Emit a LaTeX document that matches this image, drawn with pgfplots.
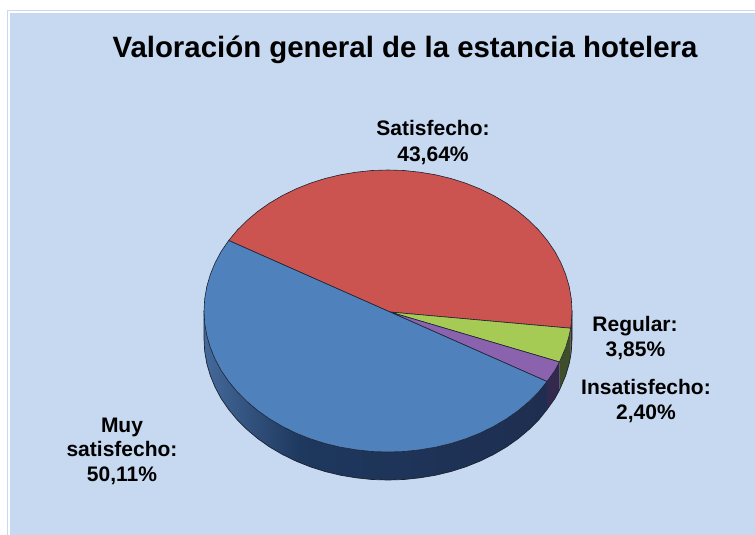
\documentclass[border=0pt]{standalone}
\usepackage{pgfplots}
\pgfplotsset{compat=1.18}
\usepackage{fontspec}
\setmainfont{Liberation Sans}
\definecolor{bg}{HTML}{C6D9F0}
\definecolor{topblue}{HTML}{4F81BD}
\definecolor{topred}{HTML}{CB5350}
\definecolor{topgreen}{HTML}{A6CB55}
\definecolor{toppurple}{HTML}{8A62AE}
\definecolor{edge}{HTML}{1C2230}
\definecolor{sideL}{HTML}{44699A}
\definecolor{sideM}{HTML}{1E385E}
\definecolor{sideR}{HTML}{1E2E50}
\definecolor{sidePurple}{HTML}{33284E}
\definecolor{sideGreen}{HTML}{3F4E2A}
\definecolor{sideRed}{HTML}{502C2A}
\tikzset{lab/.style={font=\fontsize{21}{25}\selectfont\bfseries, anchor=base, inner sep=0pt}}
\begin{document}
\begin{tikzpicture}
\begin{axis}[
  hide axis, scale only axis, width=755pt, height=535pt,
  xmin=0, xmax=755, ymin=0, ymax=535, y dir=reverse, clip=true,
  every axis plot/.append style={line join=round},
]
% page and frame
\addplot[fill=white, draw=none] coordinates {(0,0) (755,0) (755,535) (0,535)} --cycle;
\addplot[fill=bg, draw=none] coordinates {(7,10) (755,10) (755,535) (7,535)} --cycle;
\addplot[fill=white, draw=none] coordinates {(8.2,11.2) (755,11.2) (755,535) (8.2,535)} --cycle;
\addplot[fill=bg, draw=none] coordinates {(10,13) (755,13) (755,535) (10,535)} --cycle;
% side walls
\addplot[draw=none, shade, left color=sideL, right color=sideM] coordinates {
(204,311)(204.7,323.3)(206.8,335.5)(210.3,347.5)(215.1,359.2)(221.2,370.6)(228.7,381.5)(237.3,391.9)(247.1,401.6)(257.9,410.7)(269.7,419)(282.5,426.5)(296,433.1)(300,435)
(300,463)(296,461.1)(282.5,454.5)(269.7,447)(257.9,438.7)(247.1,429.6)(237.3,419.9)(228.7,409.5)(221.2,398.6)(215.1,387.2)(210.3,375.5)(206.8,363.5)(204.7,351.3)(204,339)
} --cycle;
\addplot[draw=none, shade, left color=sideM, right color=sideR] coordinates {
(299.5,434.6)(310.2,438.8)(325.1,443.5)(340.4,447.2)(356.1,449.8)(372,451.5)(388,452)(404,451.5)(419.9,449.8)(435.6,447.2)(450.9,443.5)(465.8,438.8)(480,433.1)(493.5,426.5)(506.3,419)(518.1,410.7)(528.9,401.6)(538.7,391.9)(547,381.5)
(547,409.5)(538.7,419.9)(528.9,429.6)(518.1,438.7)(506.3,447)(493.5,454.5)(480,461.1)(465.8,466.8)(450.9,471.5)(435.6,475.2)(419.9,477.8)(404,479.5)(388,480)(372,479.5)(356.1,477.8)(340.4,475.2)(325.1,471.5)(310.2,466.8)(299.5,462.6)
} --cycle;
\addplot[fill=sidePurple, draw=none] coordinates {
(547,381.5)(554.8,370.6)(559.5,362)(559.5,390)(554.8,398.6)(547,409.5)} --cycle;
\addplot[fill=sideGreen, draw=none] coordinates {
(559.5,362)(565.7,347.5)(569.2,335.5)(570.6,328.2)(570.6,356.2)(569.2,363.5)(565.7,375.5)(559.5,390)} --cycle;
\addplot[fill=sideRed, draw=none] coordinates {
(570.6,328.2)(571.3,323.3)(572,311)(572,339)(571.3,351.3)(570.6,356.2)} --cycle;
% outline of the lower rim
\addplot[draw=edge, line width=0.7pt] coordinates {
(204,311)(204,339)(204.7,351.3)(206.8,363.5)(210.3,375.5)(215.1,387.2)(221.2,398.6)(228.7,409.5)(237.3,419.9)(247.1,429.6)(257.9,438.7)(269.7,447)(282.5,454.5)(296,461.1)(310.2,466.8)(325.1,471.5)(340.4,475.2)(356.1,477.8)(372,479.5)(388,480)(404,479.5)(419.9,477.8)(435.6,475.2)(450.9,471.5)(465.8,466.8)(480,461.1)(493.5,454.5)(506.3,447)(518.1,438.7)(528.9,429.6)(538.7,419.9)(547,409.5)(554.8,398.6)(559.5,390)(565.7,375.5)(569.2,363.5)(570.6,356.2)(571.3,351.3)(572,339)(572,311)};
% top slices
\addplot[draw=edge, line width=0.6pt, fill=topred] coordinates {
(390,312)(228.7,240.5)(237.3,230.1)(247.1,220.4)(257.9,211.3)(269.7,203)(282.5,195.5)(296,188.9)(310.2,183.2)(325.1,178.5)(340.4,174.8)(356.1,172.2)(372,170.5)(388,170)(404,170.5)(419.9,172.2)(435.6,174.8)(450.9,178.5)(465.8,183.2)(480,188.9)(493.5,195.5)(506.3,203)(518.1,211.3)(528.9,220.4)(538.7,230.1)(547.3,240.5)(554.8,251.4)(560.9,262.8)(565.7,274.5)(569.2,286.5)(571.3,298.7)(572,311)(571.3,323.3)(570.6,328.2)} --cycle;
\addplot[draw=edge, line width=0.6pt, fill=topgreen] coordinates {
(390,312)(570.6,328.2)(569.2,335.5)(565.7,347.5)(559.5,362)} --cycle;
\addplot[draw=edge, line width=0.6pt, fill=toppurple] coordinates {
(390,312)(559.5,362)(554.8,370.6)(547,381.5)} --cycle;
\addplot[draw=edge, line width=0.6pt, fill=topblue] coordinates {
(390,312)(547,381.5)(538.7,391.9)(528.9,401.6)(518.1,410.7)(506.3,419)(493.5,426.5)(480,433.1)(465.8,438.8)(450.9,443.5)(435.6,447.2)(419.9,449.8)(404,451.5)(388,452)(372,451.5)(356.1,449.8)(340.4,447.2)(325.1,443.5)(310.2,438.8)(296,433.1)(282.5,426.5)(269.7,419)(257.9,410.7)(247.1,401.6)(237.3,391.9)(228.7,381.5)(221.2,370.6)(215.1,359.2)(210.3,347.5)(206.8,335.5)(204.7,323.3)(204,311)(204.7,298.7)(206.8,286.5)(210.3,274.5)(215.1,262.8)(221.2,251.4)(228.7,240.5)} --cycle;
% texts
\node[font=\fontsize{29.4}{34}\selectfont\bfseries, anchor=base, inner sep=0pt] at (axis cs:405,57.3) {Valoración general de la estancia hotelera};
\node[lab] at (axis cs:433,135.3) {Satisfecho:};
\node[lab] at (axis cs:433,161) {43,64\%};
\node[lab] at (axis cs:635,331) {Regular:};
\node[lab] at (axis cs:635.5,356) {3,85\%};
\node[lab] at (axis cs:646,394.3) {Insatisfecho:};
\node[lab] at (axis cs:646,419.3) {2,40\%};
\node[lab] at (axis cs:122,432) {Muy};
\node[lab] at (axis cs:122,456) {satisfecho:};
\node[lab] at (axis cs:122,481.5) {50,11\%};
\end{axis}
\end{tikzpicture}
\end{document}
